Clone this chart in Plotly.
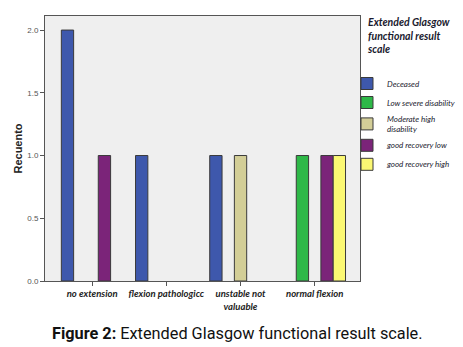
import plotly.graph_objects as go

categories = ["no extension", "flexion pathologicc", "unstable not<br>valuable", "normal flexion"]
series_names = ["Deceased", "Low severe disability", "Moderate high<br>disability",
                "good recovery low", "good recovery high"]
deceased = [2, 1, 1, None]
low_severe = [None, None, None, 1]
moderate_high = [None, None, 1, None]
good_low = [1, None, None, 1]
good_high = [None, None, None, 1]
series_values = [deceased, low_severe, moderate_high, good_low, good_high]
colors = ["#3e58ac", "#2eb848", "#d3ce97", "#7b2479", "#fbf873"]
y_ticks = [0.0, 0.5, 1.0, 1.5, 2.0]
legend_title = "Extended Glasgow<br>functional result<br>scale"
caption = "<b>Figure 2:</b> Extended Glasgow functional result scale."

W, H = 463, 347
ML, MR, MT, MB = 45, 103, 16, 66
PW, PH = W - ML - MR, H - MT - MB

def px_x(px):
    return (px - ML) / PW

def px_y(py):
    return (MT + PH - py) / PH

fig = go.Figure()
for name, vals, col in zip(series_names, series_values, colors):
    fig.add_trace(go.Bar(
        x=categories, y=vals, name=name,
        marker=dict(color=col, line=dict(color="#3a3a3a", width=1)),
    ))

fig.update_layout(
    width=W, height=H,
    margin=dict(l=ML, r=MR, t=MT, b=MB, autoexpand=False),
    paper_bgcolor="white",
    plot_bgcolor="#efefef",
    barmode="group",
    bargap=0.17,
    bargroupgap=0.0,
    showlegend=True,
    legend=dict(
        xref="container", yref="container",
        x=347 / W, y=1 - 69 / H, xanchor="left", yanchor="top",
        bgcolor="rgba(0,0,0,0)",
        font=dict(family="Lato", size=8, color="#1a1a2e", style="italic"),
        itemwidth=30,
        tracegroupgap=0,
    ),
    xaxis=dict(
        range=[-0.635, 3.61],
        showline=True, linecolor="#555555", linewidth=1, mirror=True,
        ticks="outside", ticklen=4, tickcolor="#555555",
        tickfont=dict(family="Lato", size=9.5, color="#222222", style="italic", weight="bold"),
        showgrid=False, zeroline=False,
    ),
    yaxis=dict(
        range=[0, 2.112],
        tickvals=y_ticks, ticktext=[f"{v:.1f}" for v in y_ticks],
        showline=True, linecolor="#555555", linewidth=1, mirror=True,
        ticks="outside", ticklen=4, tickcolor="#555555",
        tickfont=dict(family="Liberation Sans", size=8, color="#555555"),
        showgrid=False, zeroline=False,
        title=dict(text="<b>Recuento</b>", standoff=2,
                   font=dict(family="Liberation Sans", size=11, color="#222222")),
    ),
    annotations=[
        dict(
            xref="paper", yref="paper",
            x=px_x(365), y=px_y(14),
            xanchor="left", yanchor="top", align="left", showarrow=False,
            text=legend_title,
            font=dict(family="Lato", size=10.5, color="#1a1a2e", style="italic", weight="bold"),
        ),
        dict(
            xref="paper", yref="paper",
            x=px_x(W / 2 + 6), y=px_y(333),
            xanchor="center", yanchor="middle", showarrow=False,
            text=caption,
            font=dict(family="Roboto", size=16.3, color="#111111"),
        ),
    ],
)

fig.write_html("out.html")
